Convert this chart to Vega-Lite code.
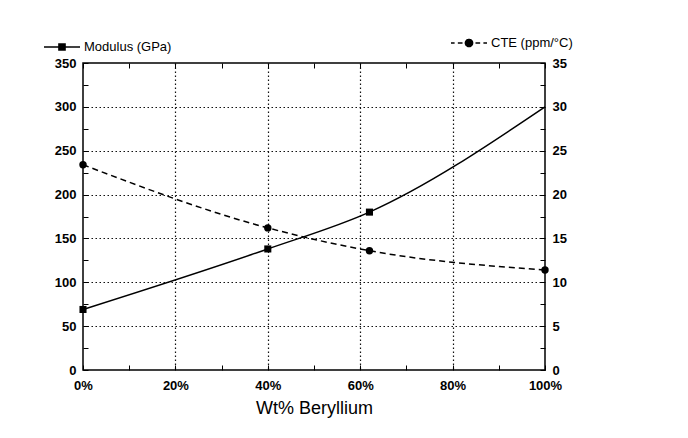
{
  "$schema": "https://vega.github.io/schema/vega-lite/v6.json",
  "width": 462,
  "height": 307,
  "autosize": {"type": "none"},
  "padding": {"left": 83, "top": 63, "right": 143, "bottom": 68},
  "background": "white",
  "config": {
    "view": {"stroke": "black", "strokeWidth": 1.5},
    "font": "Liberation Sans",
    "axis": {
      "labelFont": "Liberation Sans",
      "labelFontSize": 13,
      "labelFontWeight": "bold",
      "labelColor": "black",
      "labelOverlap": false,
      "labelBound": false,
      "labelFlush": false,
      "tickColor": "black",
      "tickSize": -5,
      "tickWidth": 1,
      "domain": false,
      "gridColor": "#111111",
      "gridDash": [1.5, 2.5],
      "gridWidth": 1.2,
      "titleFont": "Liberation Sans",
      "titleColor": "black",
      "titleFontWeight": "normal"
    },
    "legend": {
      "orient": "none",
      "padding": 0,
      "labelFont": "Liberation Sans",
      "labelFontSize": 13,
      "labelColor": "black",
      "labelOffset": 3,
      "symbolSize": 1296
    }
  },
  "data": {
    "values": [
      {"wt": 0, "modulus": 69, "cte": 23.4},
      {"wt": 40, "modulus": 138, "cte": 16.2},
      {"wt": 62, "modulus": 180, "cte": 13.6},
      {"wt": 100, "modulus": 300, "cte": 11.4}
    ]
  },
  "layer": [
    {
      "encoding": {
        "x": {
          "field": "wt",
          "type": "quantitative",
          "scale": {"domain": [0, 100], "nice": false},
          "axis": {
            "orient": "bottom",
            "values": [0, 10, 20, 30, 40, 50, 60, 70, 80, 90, 100],
            "labelExpr": "datum.value % 20 === 0 ? datum.value + '%' : ''",
            "gridOpacity": {"condition": {"test": "datum.value % 20 === 0 && datum.value > 0 && datum.value < 100", "value": 1}, "value": 0},
            "title": "Wt% Beryllium",
            "titleFontSize": 18,
            "titlePadding": 7,
            "labelPadding": 14
          }
        },
        "y": {
          "field": "modulus",
          "type": "quantitative",
          "scale": {"domain": [0, 350], "nice": false},
          "axis": {
            "orient": "left",
            "values": [0, 25, 50, 75, 100, 125, 150, 175, 200, 225, 250, 275, 300, 325, 350],
            "labelExpr": "datum.value % 50 === 0 ? datum.label : ''",
            "gridOpacity": {"condition": {"test": "datum.value % 50 === 0 && datum.value > 0 && datum.value < 350", "value": 1}, "value": 0},
            "title": null,
            "labelPadding": 12
          }
        },
        "color": {
          "datum": "Modulus (GPa)",
          "scale": {"range": ["black"]},
          "legend": {
            "title": null,
            "legendX": -40,
            "legendY": -35,
            "encode": {
              "symbols": {
                "update": {
                  "shape": {"value": "M-1,0L-0.19,0M0.19,0L1,0M-0.17,-0.17L0.17,-0.17L0.17,0.17L-0.17,0.17Z"},
                  "size": {"value": 1296},
                  "fill": {"value": "black"},
                  "stroke": {"value": "black"},
                  "strokeWidth": {"value": 1.5},
                  "strokeDash": {"value": [1, 0]},
                  "opacity": {"value": 1}
                }
              }
            }
          }
        }
      },
      "layer": [
        {"mark": {"type": "line", "interpolate": "monotone", "strokeWidth": 1.5}},
        {
          "transform": [{"filter": "datum.wt < 100"}],
          "mark": {"type": "point", "shape": "square", "filled": true, "size": 50, "opacity": 1}
        }
      ]
    },
    {
      "encoding": {
        "x": {
          "field": "wt",
          "type": "quantitative",
          "scale": {"domain": [0, 100], "nice": false},
          "axis": {
            "orient": "top",
            "values": [0, 10, 20, 30, 40, 50, 60, 70, 80, 90, 100],
            "labels": false,
            "grid": false,
            "title": null
          }
        },
        "y": {
          "field": "cte",
          "type": "quantitative",
          "scale": {"domain": [0, 35], "nice": false},
          "axis": {
            "orient": "right",
            "values": [0, 2.5, 5, 7.5, 10, 12.5, 15, 17.5, 20, 22.5, 25, 27.5, 30, 32.5, 35],
            "labelExpr": "datum.value % 5 === 0 ? datum.label : ''",
            "grid": false,
            "title": null,
            "labelPadding": 12
          }
        },
        "color": {
          "datum": "CTE (ppm/°C)",
          "scale": {"range": ["black"]},
          "legend": {
            "title": null,
            "legendX": 367,
            "legendY": -39,
            "encode": {
              "symbols": {
                "update": {
                  "shape": {"value": "M-1,0L-0.8,0M-0.62,0L-0.36,0M0.36,0L0.62,0M0.8,0L1,0M-0.2,0A0.2,0.2,0,1,1,0.2,0A0.2,0.2,0,1,1,-0.2,0Z"},
                  "size": {"value": 1296},
                  "fill": {"value": "black"},
                  "stroke": {"value": "black"},
                  "strokeWidth": {"value": 1.5},
                  "strokeDash": {"value": [1, 0]},
                  "opacity": {"value": 1}
                }
              }
            }
          }
        }
      },
      "layer": [
        {"mark": {"type": "line", "interpolate": "monotone", "strokeWidth": 1.5, "strokeDash": [6, 4]}},
        {"mark": {"type": "point", "shape": "circle", "filled": true, "size": 55, "opacity": 1}}
      ]
    }
  ],
  "resolve": {
    "scale": {"y": "independent", "color": "independent"},
    "axis": {"x": "independent", "y": "independent"}
  }
}
